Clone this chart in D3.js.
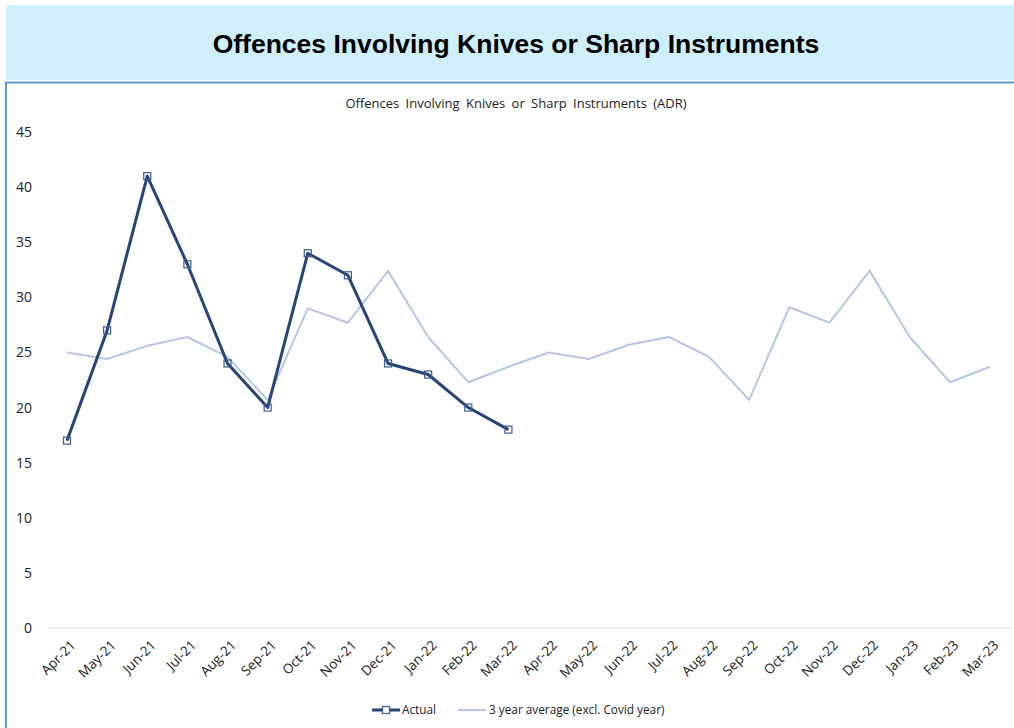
<!DOCTYPE html>
<html><head><meta charset="utf-8">
<script src="https://cdn.jsdelivr.net/npm/d3@7"></script>
<style>body{margin:0;background:#fff;}svg{display:block;}</style>
</head><body>
<svg id="c" width="1014" height="728"></svg>
<script>
const months = ["Apr-21","May-21","Jun-21","Jul-21","Aug-21","Sep-21","Oct-21","Nov-21","Dec-21","Jan-22","Feb-22","Mar-22","Apr-22","May-22","Jun-22","Jul-22","Aug-22","Sep-22","Oct-22","Nov-22","Dec-22","Jan-23","Feb-23","Mar-23"];
const actual = [17,27,41,33,24,20,34,32,24,23,20,18];
const avg3yr = [25,24.4,25.6,26.4,24.6,20.7,29.0,27.7,32.4,26.4,22.3,23.7,25,24.4,25.7,26.4,24.6,20.7,29.1,27.7,32.4,26.4,22.3,23.7];
const yTicks = [0,5,10,15,20,25,30,35,40,45];

const svg = d3.select("#c");
// header band
svg.append("rect").attr("x",6).attr("y",5).attr("width",1008).attr("height",75).attr("fill","#cfeffa");
svg.append("text").attr("x",516).attr("y",53).attr("text-anchor","middle")
  .attr("font-family","Liberation Sans, Arial").attr("font-weight","bold").attr("font-size",26.5).attr("fill","#000")
  .text("Offences Involving Knives or Sharp Instruments");
// chart frame borders
svg.append("line").attr("x1",5).attr("x2",1014).attr("y1",82.5).attr("y2",82.5).attr("stroke","#5b9bd5").attr("stroke-width",2);
svg.append("line").attr("x1",6).attr("x2",6).attr("y1",82).attr("y2",728).attr("stroke","#5b9bd5").attr("stroke-width",2);

svg.append("text").attr("x",516).attr("y",108).attr("text-anchor","middle")
  .attr("font-family","Open Sans, sans-serif").attr("font-size",13).attr("fill","#222").attr("word-spacing",3)
  .text("Offences Involving Knives or Sharp Instruments (ADR)");

const x = d3.scalePoint().domain(months).range([67,990]);
const y = d3.scaleLinear().domain([0,45]).range([628,132]);

// zero baseline
svg.append("line").attr("x1",48).attr("x2",1011).attr("y1",y(0)).attr("y2",y(0)).attr("stroke","#d9d9d9").attr("stroke-width",1);

// y axis labels
const yAxis = d3.axisLeft(y).tickValues(yTicks).tickSize(0).tickPadding(0);
const gy = svg.append("g").attr("transform","translate(32,0)").call(yAxis);
gy.select(".domain").remove();
gy.selectAll("text").attr("font-family","Open Sans, sans-serif").attr("font-size",14).attr("fill","#222");

// x axis labels
const xAxis = d3.axisBottom(x).tickSize(0).tickPadding(0);
const gx = svg.append("g").attr("transform",`translate(0,${y(0)})`).call(xAxis);
gx.select(".domain").remove();
gx.selectAll("text").attr("font-family","Open Sans, sans-serif").attr("font-size",13.5).attr("fill","#222")
  .attr("text-anchor","end").attr("dy",0).attr("transform","translate(9,18) rotate(-45)");

// lines
const line = d3.line().x((d,i)=>x(months[i])).y(d=>y(d));
svg.append("path").datum(avg3yr).attr("d",line).attr("fill","none").attr("stroke","#b4c7e7").attr("stroke-width",2).attr("stroke-linejoin","round");
svg.append("path").datum(actual).attr("d",line).attr("fill","none").attr("stroke","#264478").attr("stroke-width",3).attr("stroke-linejoin","round");
svg.selectAll(".mk").data(actual).enter().append("rect")
  .attr("x",(d,i)=>x(months[i])-3.5).attr("y",d=>y(d)-3.5).attr("width",7).attr("height",7)
  .attr("fill","none").attr("stroke","#3b5a8f").attr("stroke-width",1.2);

// legend
const lg = svg.append("g").attr("font-family","Open Sans, sans-serif").attr("font-size",11.8).attr("fill","#222");
lg.append("line").attr("x1",372).attr("x2",400).attr("y1",710).attr("y2",710).attr("stroke","#264478").attr("stroke-width",3);
lg.append("rect").attr("x",382.5).attr("y",706.5).attr("width",7).attr("height",7).attr("fill","#fff").attr("stroke","#3b5a8f").attr("stroke-width",1.2);
lg.append("text").attr("x",402).attr("y",714).text("Actual");
lg.append("line").attr("x1",458).attr("x2",486).attr("y1",710).attr("y2",710).attr("stroke","#b4c7e7").attr("stroke-width",2);
lg.append("text").attr("x",489).attr("y",714).text("3 year average (excl. Covid year)");
</script>
</body></html>
